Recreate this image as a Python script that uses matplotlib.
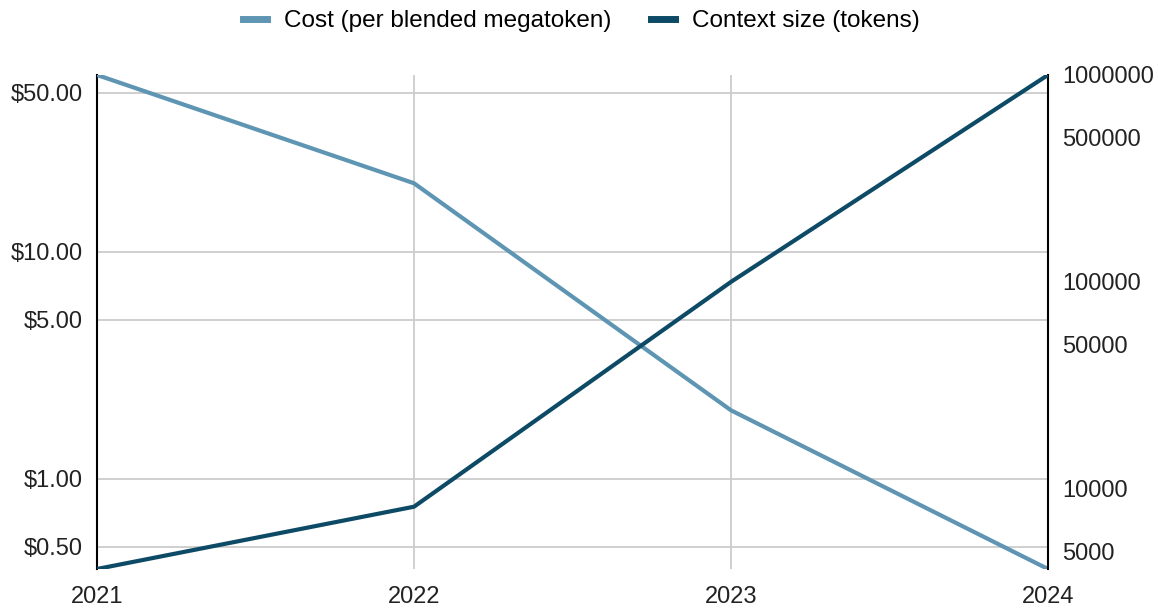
import matplotlib.pyplot as plt
from matplotlib.ticker import FixedLocator, FixedFormatter, NullLocator
from matplotlib.lines import Line2D

plt.rcParams['font.family'] = ['Liberation Sans', 'DejaVu Sans']

years = [2021, 2022, 2023, 2024]
cost = [60.0, 20.0, 2.0, 0.4]
context = [4096, 8192, 100000, 1000000]

cost_ticks = [0.5, 1, 5, 10, 50]
cost_labels = ['$0.50', '$1.00', '$5.00', '$10.00', '$50.00']
ctx_ticks = [5000, 10000, 50000, 100000, 500000, 1000000]
ctx_labels = ['5000', '10000', '50000', '100000', '500000', '1000000']

c_cost = '#5e95b3'
c_ctx = '#0d4a65'

fig = plt.figure(figsize=(11.58, 6.09), dpi=100)
ax = fig.add_axes([0.0838, 0.0657, 0.8212, 0.8112])
ax2 = ax.twinx()

ax.plot(years, cost, color=c_cost, lw=3, solid_capstyle='butt', zorder=3)
ax2.plot(years, context, color=c_ctx, lw=3, solid_capstyle='butt', zorder=3)

ax.set_yscale('log')
ax2.set_yscale('log')
ax.set_ylim(min(cost), max(cost))
ax2.set_ylim(min(context), max(context))
ax.set_xlim(years[0], years[-1])

ax.yaxis.set_major_locator(FixedLocator(cost_ticks))
ax.yaxis.set_major_formatter(FixedFormatter(cost_labels))
ax.yaxis.set_minor_locator(NullLocator())
ax2.yaxis.set_major_locator(FixedLocator(ctx_ticks))
ax2.yaxis.set_major_formatter(FixedFormatter(ctx_labels))
ax2.yaxis.set_minor_locator(NullLocator())
ax.set_xticks(years)
ax.set_xticklabels([str(y) for y in years])

ax.grid(True, color='#cccccc', lw=1.3, zorder=0)
ax.set_axisbelow(True)

for a in (ax, ax2):
    for s in a.spines.values():
        s.set_visible(False)
    a.tick_params(length=0, labelsize=17, colors='#222222')
ax.spines['left'].set_visible(True)
ax.spines['left'].set_linewidth(1.5)
ax2.spines['right'].set_visible(True)
ax2.spines['right'].set_linewidth(1.5)
ax.tick_params(axis='y', pad=10)
ax.tick_params(axis='x', pad=12)
ax2.tick_params(axis='y', pad=10)

handles = [Line2D([], [], color=c_cost, lw=5), Line2D([], [], color=c_ctx, lw=5)]
fig.legend(handles, ['Cost (per blended megatoken)', 'Context size (tokens)'],
           loc='center', bbox_to_anchor=(0.502, 0.965), ncol=2, frameon=False,
           fontsize=17.5, handlelength=1.0, columnspacing=1.6, handletextpad=0.7)

fig.savefig('out.png', dpi=100)
